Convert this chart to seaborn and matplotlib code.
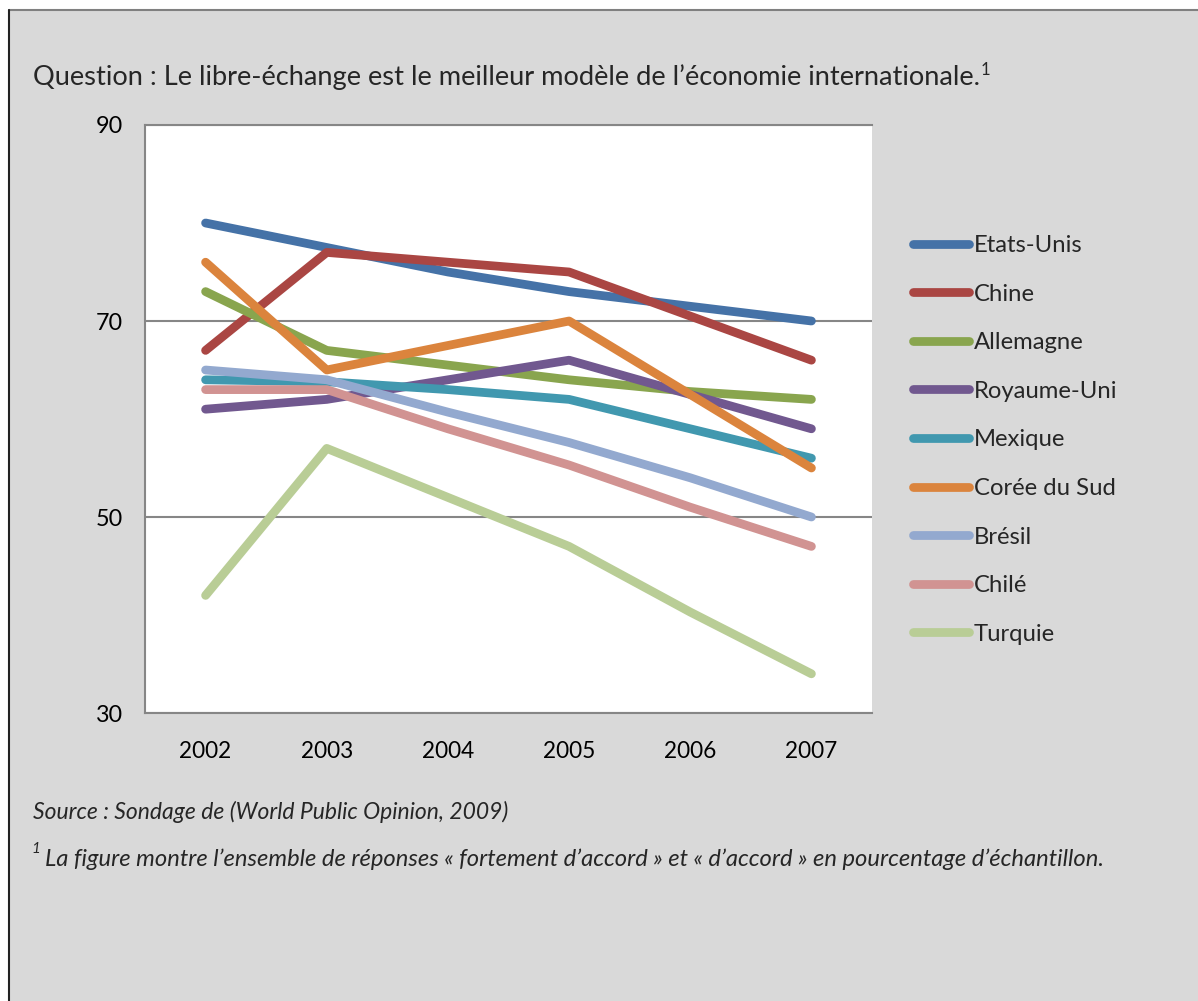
import matplotlib.pyplot as plt
import seaborn as sns
import pandas as pd
from matplotlib.patches import Rectangle
from matplotlib.lines import Line2D

# data (% "fortement d'accord" + "d'accord")
years = [2002, 2003, 2004, 2005, 2006, 2007]
countries = ["Etats-Unis", "Chine", "Allemagne", "Royaume-Uni", "Mexique",
             "Corée du Sud", "Brésil", "Chilé", "Turquie"]
etats_unis = [80, 77.5, 75, 73, 71.5, 70]
chine = [67, 77, 76, 75, 70.5, 66]
allemagne = [73, 67, 65.5, 64, 62.8, 62]
royaume_uni = [61, 62, 64, 66, 62.5, 59]
mexique = [64, 63.8, 63, 62, 59, 56]
coree_du_sud = [76, 65, 67.5, 70, 62.5, 55]
bresil = [65, 64, 60.7, 57.6, 54, 50]
chile = [63, 63, 59, 55.3, 51, 47]
turquie = [42, 57, 52, 47, 40.3, 34]
series = [etats_unis, chine, allemagne, royaume_uni, mexique,
          coree_du_sud, bresil, chile, turquie]
colors = ["#4572A7", "#AA4643", "#89A54E", "#71588F", "#4198AF",
          "#DB843D", "#93A9CF", "#D19392", "#B9CD96"]
y_ticks = [30, 50, 70, 90]

title = "Question : Le libre-échange est le meilleur modèle de l’économie internationale."
source = "Source : Sondage de (World Public Opinion, 2009)"
note = "La figure montre l’ensemble de réponses « fortement d’accord » et « d’accord » en pourcentage d’échantillon."

df = pd.DataFrame(
    [(c, y, v) for c, vals in zip(countries, series) for y, v in zip(years, vals)],
    columns=["pays", "annee", "valeur"],
)

sns.set_style("white")
plt.rcParams["font.family"] = ["Lato", "DejaVu Sans"]
grid_col = "#868686"

W, H = 1198, 1001
fig = plt.figure(figsize=(W / 100, H / 100), dpi=100)
fig.patch.set_facecolor("white")

# gray text box behind everything
fig.patches.append(Rectangle((9 / W, 0), 1, 1 - 10 / H, transform=fig.transFigure,
                             facecolor="#D9D9D9", edgecolor="none", zorder=-10))
fig.add_artist(Line2D([9 / W, 1], [1 - 10 / H, 1 - 10 / H], color="#808080", lw=1.5))
fig.add_artist(Line2D([9 / W, 9 / W], [0, 1 - 10 / H], color="#222222", lw=1.5))

ax = fig.add_axes([145 / W, 1 - 713 / H, 727 / W, 588 / H])
ax.set_facecolor("white")

sns.lineplot(data=df, x="annee", y="valeur", hue="pays", hue_order=countries,
             palette=colors, linewidth=6.3, solid_capstyle="round",
             solid_joinstyle="round", ax=ax, legend=True)

ax.set_xlim(2001.5, 2007.5)
ax.set_ylim(30, 90)
ax.set_xticks(years)
ax.set_xticklabels([str(y) for y in years])
ax.set_xticks([y - 0.5 for y in years] + [2007.5], minor=True)
ax.set_yticks(y_ticks)
ax.tick_params(axis="x", which="major", length=0, pad=20, labelsize=16.3, colors="black")
ax.tick_params(axis="x", which="minor", length=7, width=1.5, color=grid_col, direction="out")
ax.tick_params(axis="y", length=7, width=1.5, color=grid_col, pad=9, labelsize=16.8,
               labelcolor="black", direction="out")
ax.grid(axis="y", color=grid_col, lw=1.5)
ax.grid(axis="x", visible=False)
for side in ["left", "bottom", "top"]:
    ax.spines[side].set_color(grid_col)
    ax.spines[side].set_linewidth(1.5)
ax.spines["right"].set_visible(False)
ax.set_xlabel("")
ax.set_ylabel("")

handles, labels = ax.get_legend_handles_labels()
for h in handles:
    h.set_solid_capstyle("round")
    h.set_linewidth(6.3)
ax.get_legend().remove()
fig.legend(handles, labels, loc="upper left", bbox_to_anchor=(913 / W, 1 - 235 / H),
           frameon=False, fontsize=17.2, handlelength=2.35, handletextpad=0.2,
           labelspacing=1.155, borderpad=0, borderaxespad=0)

t = fig.text(33 / W, 1 - 77 / H, title, fontsize=19.6, va="center", ha="left")
fig.canvas.draw()
bb = t.get_window_extent()
fig.text((bb.x1 + 1) / W, bb.y1 / H + 0.002, "1", fontsize=12, va="top", ha="left")

fig.text(33 / W, 1 - 812 / H, source, fontsize=16.5, style="italic", va="center")
fig.text(31 / W, 1 - 849 / H, "1", fontsize=11, style="italic", va="center")
fig.text(45 / W, 1 - 859 / H, note, fontsize=17.1, style="italic", va="center")

fig.savefig("out.png", dpi=100)
